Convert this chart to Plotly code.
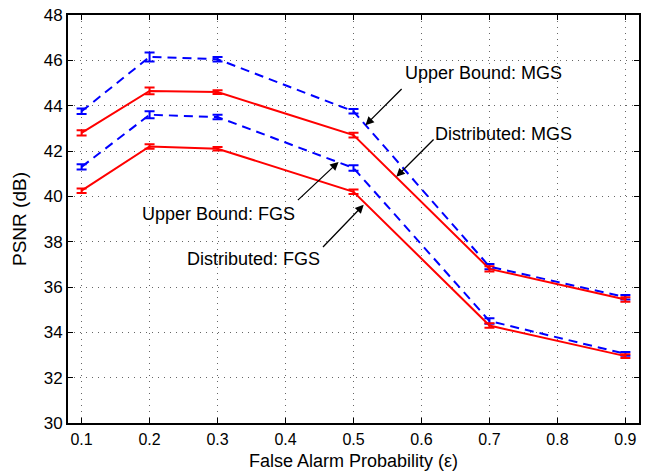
import plotly.graph_objects as go

eps = [0.1, 0.2, 0.3, 0.5, 0.7, 0.9]
ub_mgs = [43.75, 46.15, 46.05, 43.75, 36.9, 35.55]
ub_mgs_err = [0.12, 0.2, 0.1, 0.1, 0.12, 0.1]
dist_mgs = [42.8, 44.65, 44.6, 42.7, 36.8, 35.45]
dist_mgs_err = [0.12, 0.15, 0.08, 0.1, 0.12, 0.1]
ub_fgs = [41.3, 43.6, 43.5, 41.25, 34.5, 33.05]
ub_fgs_err = [0.12, 0.15, 0.1, 0.12, 0.12, 0.08]
dist_fgs = [40.25, 42.2, 42.1, 40.2, 34.3, 32.95]
dist_fgs_err = [0.1, 0.1, 0.08, 0.1, 0.1, 0.08]

BLUE = "#0000ff"
RED = "#ff0000"

fig = go.Figure()

def add(y, err, color, dash):
    fig.add_trace(go.Scatter(
        x=eps, y=y, mode="lines",
        line=dict(color=color, width=2, dash=dash),
        error_y=dict(type="data", array=err, visible=True, color=color, thickness=2, width=5),
        showlegend=False))

add(ub_mgs, ub_mgs_err, BLUE, "9px,6px")
add(ub_fgs, ub_fgs_err, BLUE, "9px,6px")
add(dist_mgs, dist_mgs_err, RED, "solid")
add(dist_fgs, dist_fgs_err, RED, "solid")

FAM = "Liberation Sans, Arial, Helvetica, sans-serif"
tick_font = dict(family=FAM, size=17, color="black")
xtick_font = dict(family=FAM, size=16, color="black")
ann_font = dict(family=FAM, size=18, color="black")
title_font = dict(family=FAM, size=19, color="black")

annots = [
    ("Upper Bound: MGS", 0.691, 45.44, 0.573, 44.8, 0.5176, 43.14),
    ("Distributed: MGS", 0.721, 42.74, 0.620, 42.57, 0.563, 40.86),
    ("Upper Bound: FGS", 0.302, 39.24, 0.416, 39.77, 0.478, 41.52),
    ("Distributed: FGS", 0.3535, 37.22, 0.453, 37.7, 0.515, 39.63),
]
for text, tx, ty, x0, y0, x1, y1 in annots:
    fig.add_annotation(x=tx, y=ty, text=text, showarrow=False, font=ann_font,
                       xref="x", yref="y")
    fig.add_annotation(x=x1, y=y1, ax=x0, ay=y0, axref="x", ayref="y",
                       xref="x", yref="y", text="", showarrow=True,
                       arrowhead=2, arrowsize=1.3, arrowwidth=1.3, arrowcolor="black")

# x-axis title placed as annotation for exact vertical placement
fig.add_annotation(x=0.5, y=-0.092, xref="paper", yref="paper", yanchor="middle",
                   text="False Alarm Probability (ε)", showarrow=False,
                   font=dict(family=FAM, size=18, color="black"),
                   borderpad=0)

axis_common = dict(
    showline=True, linecolor="black", linewidth=2, mirror="ticks",
    ticks="inside", ticklen=5, tickcolor="black",
    showgrid=True, gridcolor="#666666", griddash="1px,5px", gridwidth=1,
    zeroline=False,
)

fig.update_xaxes(range=[0.08, 0.92], tickvals=[0.1, 0.2, 0.3, 0.4, 0.5, 0.6, 0.7, 0.8, 0.9],
                 ticktext=["0.1", "0.2", "0.3", "0.4", "0.5", "0.6", "0.7", "0.8", "0.9"],
                 ticklabelstandoff=1, tickfont=xtick_font,
                 **axis_common)
fig.update_yaxes(range=[30, 48], tickvals=list(range(30, 49, 2)),
                 title=dict(text="PSNR (dB)", font=title_font, standoff=12),
                 tickfont=tick_font,
                 **axis_common)

fig.update_layout(width=647, height=472, margin=dict(l=68, r=6, t=10, b=49),
                  plot_bgcolor="white", paper_bgcolor="white", font=tick_font)

fig.write_html("out.html")
